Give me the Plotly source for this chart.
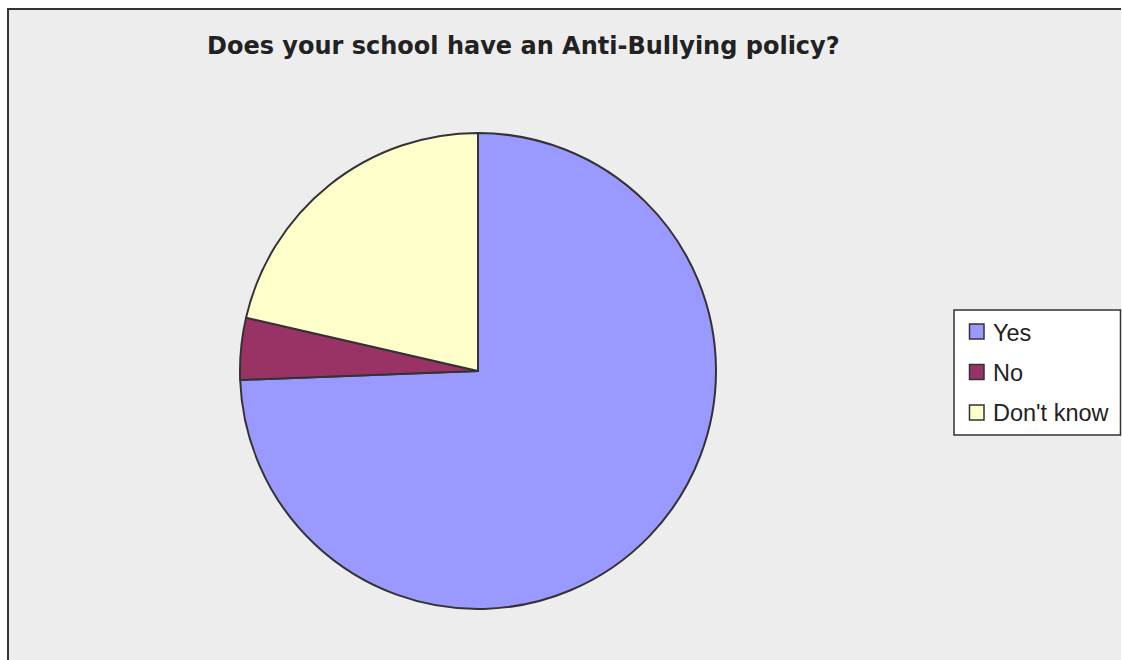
import plotly.graph_objects as go

# Survey answers (share of respondents, %)
categories = ["Yes", "No", "Don't know"]
shares = [74.4, 4.2, 21.4]
slice_colors = ["#9999FF", "#993366", "#FFFFCC"]

title_text = "Does your school have an Anti-Bullying policy?"

W, H = 1122, 660


def px_x(x):
    return x / W


def px_y(y):
    return 1 - y / H


fig = go.Figure()

fig.add_trace(go.Pie(
    labels=categories,
    values=shares,
    sort=False,
    direction="clockwise",
    rotation=0,
    marker=dict(colors=slice_colors, line=dict(color="#333333", width=2)),
    textinfo="none",
    hoverinfo="label+percent",
    showlegend=False,
    domain=dict(x=[px_x(240), px_x(716)], y=[px_y(609), px_y(133)]),
))

shapes = [
    # chart area fill
    dict(type="rect", xref="paper", yref="paper",
         x0=px_x(8), x1=px_x(1121), y0=0.0, y1=px_y(9),
         fillcolor="#EDEDED", line=dict(width=0), layer="below"),
    # frame: top and left edges
    dict(type="line", xref="paper", yref="paper",
         x0=px_x(7), x1=px_x(1121), y0=px_y(9), y1=px_y(9),
         line=dict(color="#333333", width=2), layer="below"),
    dict(type="line", xref="paper", yref="paper",
         x0=px_x(8), x1=px_x(8), y0=0.0, y1=px_y(8),
         line=dict(color="#333333", width=2), layer="below"),
    # legend box
    dict(type="rect", xref="paper", yref="paper",
         x0=px_x(954), x1=px_x(1120.5), y0=px_y(435), y1=px_y(310),
         fillcolor="#FFFFFF", line=dict(color="#333333", width=1.5), layer="above"),
]
annotations = [
    dict(text=title_text, xref="paper", yref="paper",
         x=px_x(523), y=px_y(46), xanchor="center", yanchor="middle",
         showarrow=False,
         font=dict(family="DejaVu Sans", size=24, color="#222222", weight="bold")),
]

# legend entries
for i, (lab, col) in enumerate(zip(categories, slice_colors)):
    cy = 331.5 + 40.5 * i
    shapes.append(dict(type="rect", xref="paper", yref="paper",
                       x0=px_x(969.5), x1=px_x(984), y0=px_y(cy + 7.5), y1=px_y(cy - 7.5),
                       fillcolor=col, line=dict(color="#333333", width=1.5), layer="above"))
    annotations.append(dict(text=lab, xref="paper", yref="paper",
                            x=px_x(991), y=px_y(cy + 1), xanchor="left", yanchor="middle",
                            showarrow=False,
                            font=dict(family="Liberation Sans", size=23.5, color="#222222")))

fig.update_layout(
    width=W, height=H,
    margin=dict(l=0, r=0, t=0, b=0),
    paper_bgcolor="#FFFFFF",
    plot_bgcolor="#FFFFFF",
    shapes=shapes,
    annotations=annotations,
)

fig.write_html("out.html")
